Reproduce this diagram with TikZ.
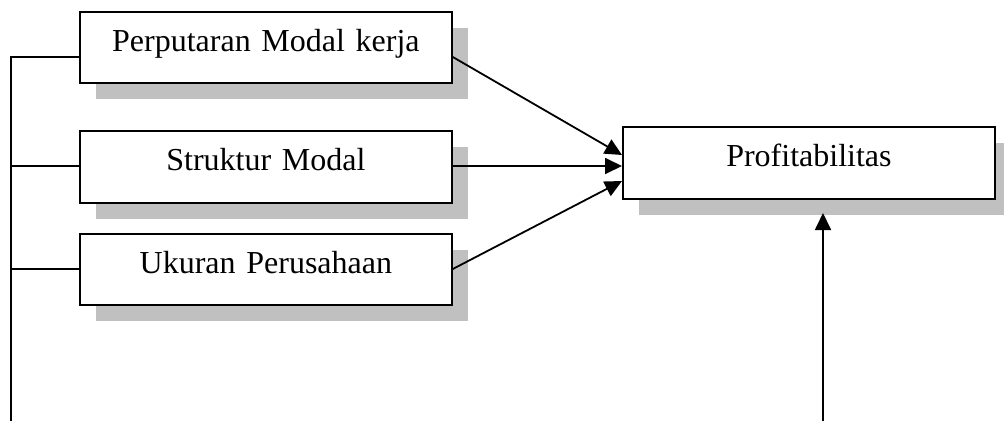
\documentclass[tikz,border=0pt]{standalone}
\usepackage{fontspec}
\setmainfont{Liberation Serif}
\usetikzlibrary{arrows.meta,shadows}
\definecolor{shadowgray}{HTML}{C0C0C0}
\tikzset{
  varbox/.style={draw=black, line width=1.8pt, fill=white, inner sep=0pt,
    text width=372pt, align=center, text height=40pt, text depth=#1,
    font=\fontsize{32}{38}\selectfont,
    general shadow={shadow xshift=16pt, shadow yshift=-16pt, fill=shadowgray, draw=none}},
  varbox/.default=31pt,
  conn/.style={line width=1.8pt},
  arr/.style={line width=1.8pt, -{Triangle[length=17pt,width=16pt]}}
}
\begin{document}
\begin{tikzpicture}[x=1pt,y=-1pt]
\useasboundingbox (0,0) rectangle (1004,421);
\node[varbox=31pt, anchor=north west] (b1) at (79,11) {Perputaran Modal kerja};
\node[varbox=32pt, anchor=north west] (b2) at (79,130) {Struktur Modal};
\node[varbox=31pt, anchor=north west] (b3) at (79,233) {Ukuran Perusahaan};
\node[varbox=32pt, anchor=north west] (pr) at (622,126) {Profitabilitas};
% attachment points
\coordinate (y1) at (0,57);
\coordinate (y2) at (0,166);
\coordinate (y3) at (0,269);
\coordinate (t1) at (0,155);
\coordinate (t3) at (0,181);
\coordinate (lb) at (11,421);
\coordinate (lt) at (11,57);
\coordinate (ab) at (823,421);
\coordinate (at) at (823,213);
% left bracket
\draw[conn] (lb) -- (lt) -- (b1.west |- y1);
\draw[conn] (lt |- y2) -- (b2.west |- y2);
\draw[conn] (lt |- y3) -- (b3.west |- y3);
% arrows to Profitabilitas
\draw[arr] (b1.east |- y1) -- (pr.west |- t1);
\draw[arr] (b2.east |- y2) -- (pr.west |- y2);
\draw[arr] (b3.east |- y3) -- (pr.west |- t3);
\draw[arr] (ab) -- (at);
\end{tikzpicture}
\end{document}
